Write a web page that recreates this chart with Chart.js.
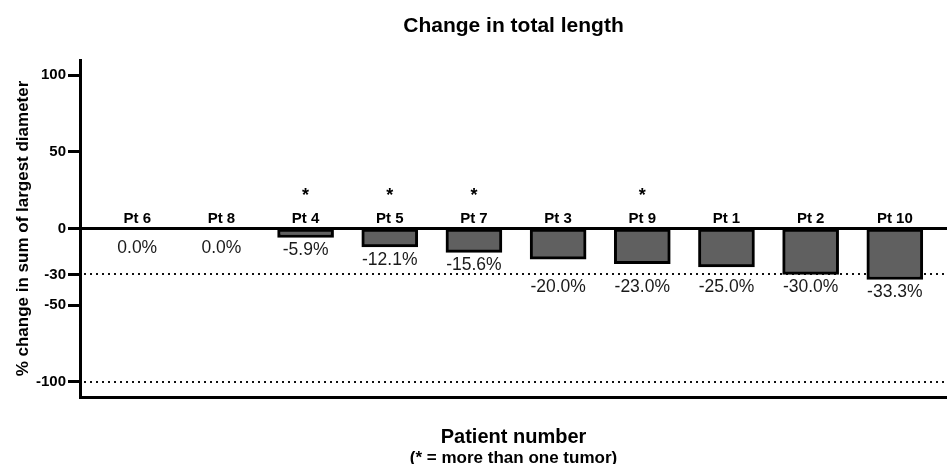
<!DOCTYPE html>
<html>
<head>
<meta charset="utf-8">
<script src="https://cdn.jsdelivr.net/npm/chart.js@4/dist/chart.umd.min.js"></script>
<style>
	html, body { margin: 0; padding: 0; background: #fff; }
	#wrap { width: 947px; height: 464px; position: relative; }
</style>
</head>
<body>
<div id="wrap"><canvas id="chart"></canvas></div>
<script>
'use strict';

const patients = ['Pt 6', 'Pt 8', 'Pt 4', 'Pt 5', 'Pt 7', 'Pt 3', 'Pt 9', 'Pt 1', 'Pt 2', 'Pt 10'];
const changes = [0.0, 0.0, -5.9, -12.1, -15.6, -20.0, -23.0, -25.0, -30.0, -33.3];
const multiTumor = [false, false, true, true, true, false, true, false, false, false];
const yTicks = [100, 50, 0, -30, -50, -100];
const refLines = [-30, -100];

const FONT = "'Liberation Sans', Arial, sans-serif";

// lines, labels and titles on top of the bars
const annotate = {
	id: 'annotate',
	beforeDatasetsDraw(chart) {
		let {ctx, chartArea, scales: {y}} = chart;
		ctx.save();
		ctx.strokeStyle = '#111';
		ctx.lineWidth = 2;
		ctx.setLineDash([2, 4]);
		for (let v of refLines) {
			let py = Math.round(y.getPixelForValue(v));
			ctx.beginPath();
			ctx.moveTo(chartArea.left + 4, py);
			ctx.lineTo(chartArea.right, py);
			ctx.stroke();
		}
		ctx.restore();
	},
	afterDatasetsDraw(chart) {
		let {ctx, chartArea, scales: {x, y}} = chart;
		let zeroY = y.getPixelForValue(0);
		let refY = y.getPixelForValue(refLines[0]);
		ctx.save();
		// zero line
		ctx.strokeStyle = '#000';
		ctx.lineWidth = 3;
		ctx.beginPath();
		ctx.moveTo(chartArea.left, zeroY);
		ctx.lineTo(chartArea.right, zeroY);
		ctx.stroke();

		ctx.fillStyle = '#000';
		ctx.textAlign = 'center';
		patients.forEach((name, i) => {
			let px = x.getPixelForValue(i);
			ctx.font = 'bold 15px ' + FONT;
			ctx.textBaseline = 'middle';
			ctx.fillText(name, px, zeroY - 10);
			if (multiTumor[i]) {
				ctx.font = 'bold 18px ' + FONT;
				ctx.textBaseline = 'alphabetic';
				ctx.fillText('*', px, zeroY - 28);
			}
			let bottom = y.getPixelForValue(changes[i]);
			let cy = Math.max(bottom + 13, zeroY + 20);
			if (cy + 8 > refY) {
				cy = Math.max(refY + 13, bottom + 13);
			}
			ctx.font = '17.5px ' + FONT;
			ctx.textBaseline = 'middle';
			ctx.fillStyle = '#1a1a1a';
			ctx.fillText(changes[i].toFixed(1) + '%', px, cy);
			ctx.fillStyle = '#000';
		});
		ctx.restore();
	},
	afterDraw(chart) {
		let {ctx, chartArea} = chart;
		let cx = (chartArea.left + chartArea.right) / 2;
		ctx.save();
		ctx.fillStyle = '#000';
		ctx.textAlign = 'center';
		ctx.textBaseline = 'middle';
		ctx.font = 'bold 21px ' + FONT;
		ctx.fillText('Change in total length', cx, 26);
		ctx.font = 'bold 20px ' + FONT;
		ctx.fillText('Patient number', cx, 437);
		ctx.font = 'bold 17px ' + FONT;
		ctx.fillText('(* = more than one tumor)', cx, 458);
		ctx.restore();
	}
};

new Chart(document.getElementById('chart'), {
	type: 'bar',
	data: {
		datasets: [{
			data: changes.map((v, i) => ({x: i, y: v})),
			backgroundColor: '#606060',
			borderColor: '#000',
			borderWidth: 3,
			borderSkipped: false,
			barThickness: 56
		}]
	},
	options: {
		responsive: true,
		maintainAspectRatio: false,
		animation: false,
		layout: {padding: {top: 60, left: 0, right: 0, bottom: 0}},
		plugins: {
			legend: {display: false},
			tooltip: {enabled: false},
			title: {display: false}
		},
		scales: {
			x: {
				type: 'linear',
				offset: false,
				min: -0.68,
				max: 9.62,
				ticks: {display: false},
				grid: {display: false, offset: false},
				border: {display: true, color: '#000', width: 3},
				afterFit: scale => { scale.height = 67; }
			},
			y: {
				min: -110,
				max: 110,
				afterBuildTicks: scale => {
					scale.ticks = yTicks.map(v => ({value: v}));
				},
				ticks: {
					color: '#000',
					padding: 2,
					font: {family: FONT, size: 15, weight: 'bold'}
				},
				grid: {
					drawOnChartArea: false,
					drawTicks: true,
					tickLength: 12,
					tickWidth: 3,
					tickColor: '#000'
				},
				border: {display: true, color: '#000', width: 3},
				title: {
					display: true,
					text: '% change in sum of largest diameter',
					color: '#000',
					padding: {top: 13, bottom: 0},
					font: {family: FONT, size: 17, weight: 'bold'}
				},
				afterFit: scale => { scale.width = 80; }
			}
		}
	},
	plugins: [annotate]
});
</script>
</body>
</html>
